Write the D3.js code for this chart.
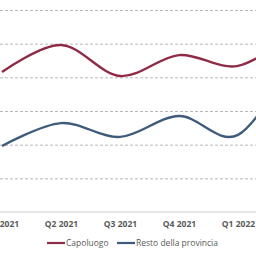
<!DOCTYPE html>
<html>
<head>
<meta charset="utf-8">
<script src="https://cdn.jsdelivr.net/npm/d3@7"></script>
<style>
  body { margin: 0; background: #fff; }
  svg { display: block; overflow: hidden; }
</style>
</head>
<body>
<div id="chart"></div>
<script>
// quarters (the last one falls outside the cropped view)
var quarters = ["Q1 2021", "Q2 2021", "Q3 2021", "Q4 2021", "Q1 2022", "Q2 2022"];
var capoluogo = [41.6, 49.6, 40.4, 46.6, 43.4, 53.5];
var restoProvincia = [19.6, 26.4, 22.3, 28.5, 22.9, 46.6];
var yTicks = [0, 10, 20, 30, 40, 50, 60];
var seriesNames = ["Capoluogo", "Resto della provincia"];
var seriesColors = ["#8f2b47", "#3f5b7b"];

var W = 256, H = 256;
var x0 = 2, step = 59, yBottom = 212, yTop = 10;

var svg = d3.select("#chart").append("svg")
  .attr("width", W)
  .attr("height", H);

var x = d3.scalePoint()
  .domain(quarters)
  .range([x0, x0 + step * (quarters.length - 1)]);

var y = d3.scaleLinear()
  .domain([0, 60])
  .range([yBottom, yTop]);

// gridlines
svg.append("g")
  .call(d3.axisLeft(y).tickValues(yTicks.slice(1)).tickSize(-W - 20).tickFormat(""))
  .call(g => g.select(".domain").remove())
  .call(g => g.selectAll("line")
    .attr("stroke", "#b8b8b8")
    .attr("stroke-width", 1)
    .attr("stroke-dasharray", "3,2"));

// base line
svg.append("line")
  .attr("x1", -10).attr("x2", W + 10)
  .attr("y1", y(0)).attr("y2", y(0))
  .attr("stroke", "#d0d0d0")
  .attr("stroke-width", 1);

// x labels
svg.append("g")
  .attr("transform", `translate(0, ${y(0)})`)
  .call(d3.axisBottom(x).tickSize(0).tickPadding(9))
  .call(g => g.select(".domain").remove())
  .call(g => g.selectAll("text")
    .attr("fill", "#595959")
    .style("font-family", "'Open Sans', sans-serif")
    .style("font-size", "8.5px")
    .style("font-weight", "bold"));

var line = d3.line()
  .x((d, i) => x(quarters[i]))
  .y(d => y(d))
  .curve(d3.curveCardinal.tension(0));

[capoluogo, restoProvincia].forEach(function(vals, k) {
  svg.append("path")
    .datum(vals)
    .attr("d", line)
    .attr("fill", "none")
    .attr("stroke", seriesColors[k])
    .attr("stroke-width", 2.4);
});

// legend
var legendX = [47, 117];
var legend = svg.selectAll(".legend")
  .data(seriesNames)
  .enter().append("g")
  .attr("transform", (d, i) => `translate(${legendX[i]}, 243)`);

legend.append("line")
  .attr("x1", 0).attr("x2", 18)
  .attr("stroke", (d, i) => seriesColors[i])
  .attr("stroke-width", 2.2);

legend.append("text")
  .attr("x", 19)
  .attr("dy", "0.35em")
  .attr("fill", "#595959")
  .style("font-family", "'Open Sans', sans-serif")
  .style("font-size", "8.5px")
  .text(d => d);
</script>
</body>
</html>
